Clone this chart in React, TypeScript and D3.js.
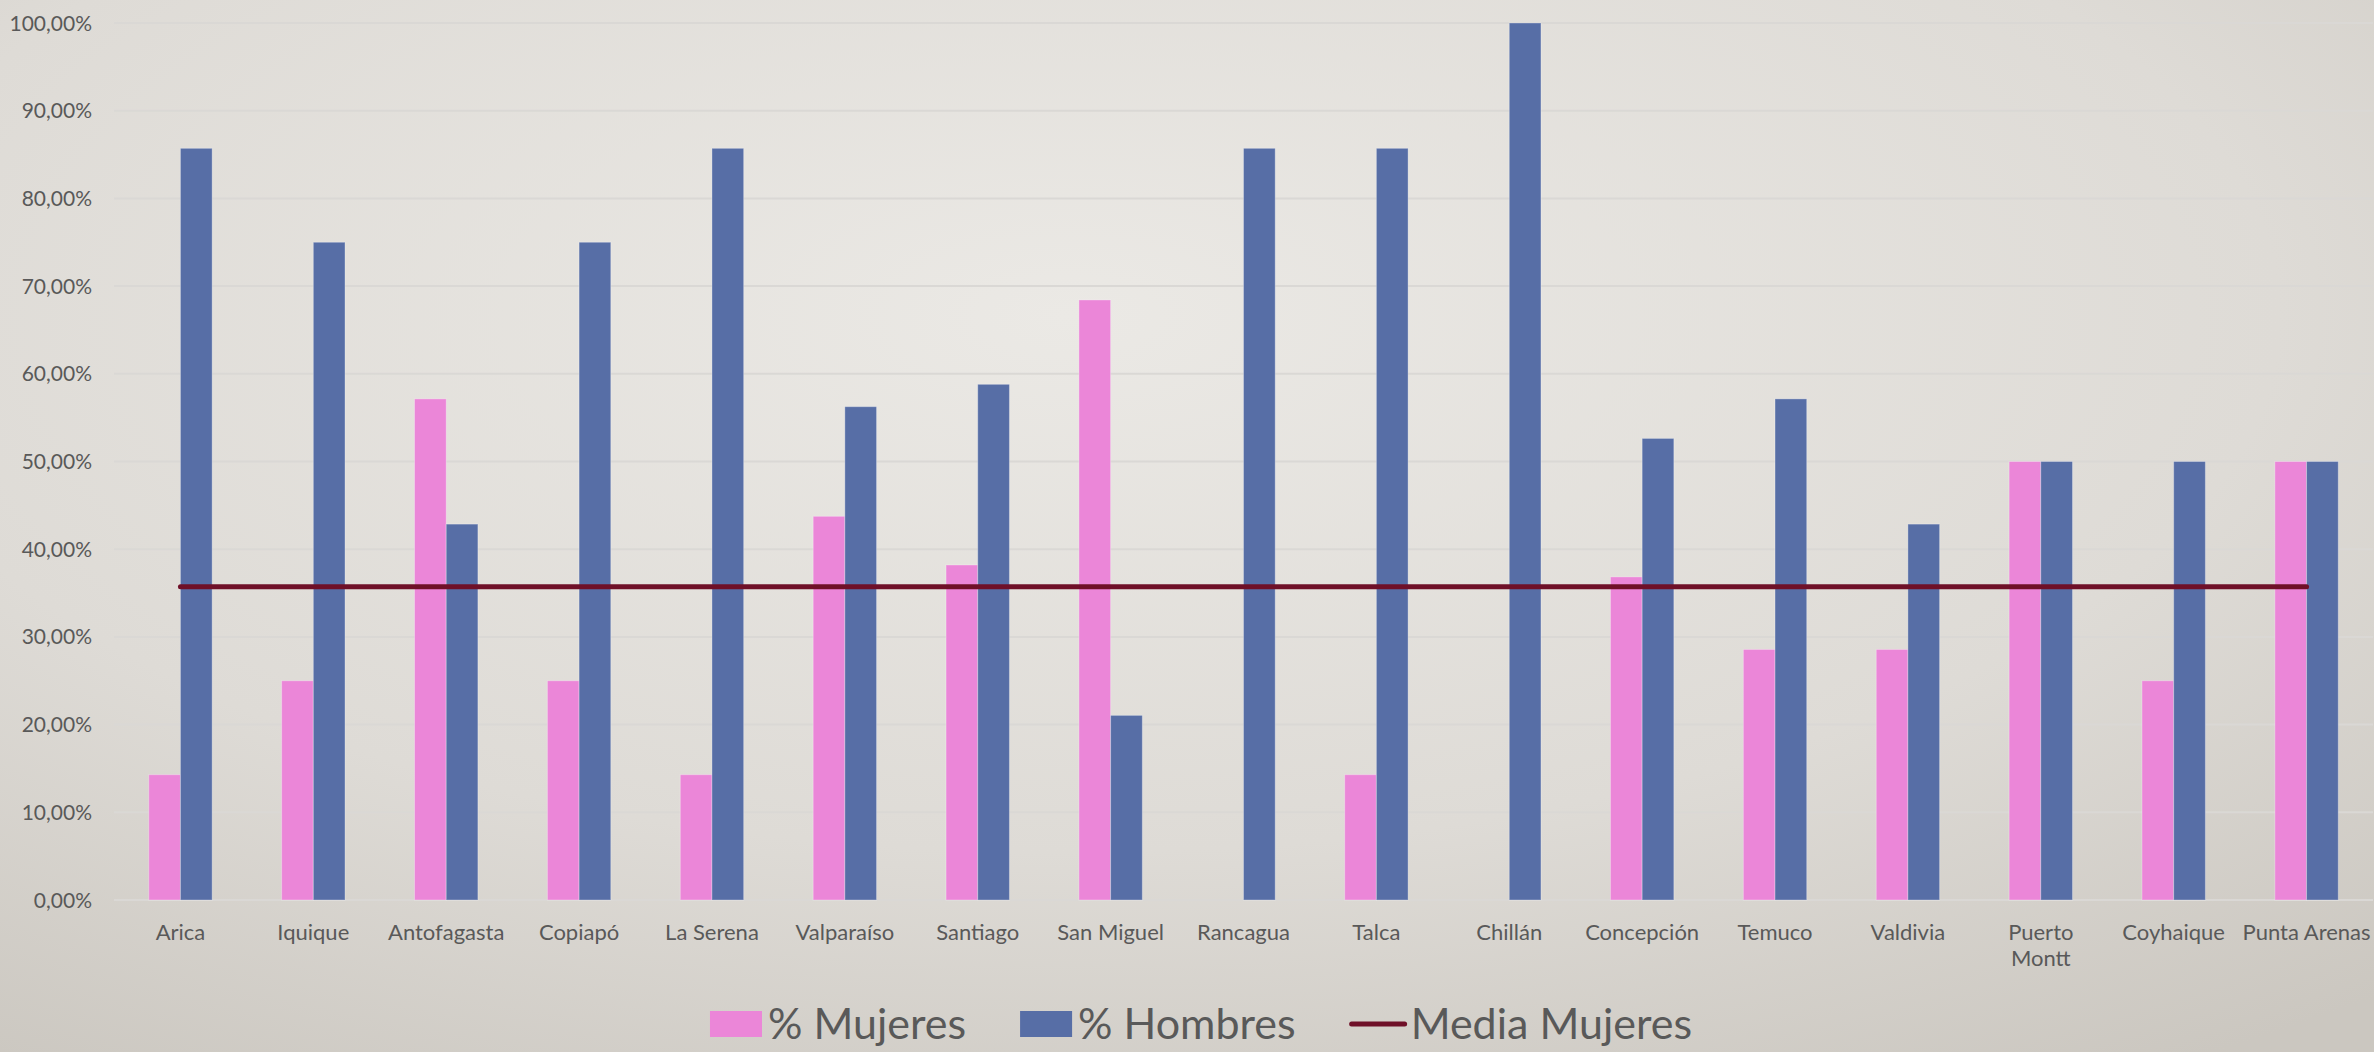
import { useEffect, useRef } from 'react'
import * as d3 from 'd3'

const cities = [
  'Arica', 'Iquique', 'Antofagasta', 'Copiapó', 'La Serena', 'Valparaíso',
  'Santiago', 'San Miguel', 'Rancagua', 'Talca', 'Chillán', 'Concepción',
  'Temuco', 'Valdivia', 'Puerto\nMontt', 'Coyhaique', 'Punta Arenas',
]
const mujeres = [
  0.1429, 0.25, 0.5714, 0.25, 0.1429, 0.4375, 0.382, 0.6842, 0, 0.1429,
  0, 0.3684, 0.2857, 0.2857, 0.5, 0.25, 0.5,
]
const hombres = [
  0.8571, 0.75, 0.4286, 0.75, 0.8571, 0.5625, 0.588, 0.2105, 0.8571, 0.8571,
  1, 0.5263, 0.5714, 0.4286, 0.5, 0.5, 0.5,
]
const mediaMujeres = 0.3571
const yTicks = [0, 0.1, 0.2, 0.3, 0.4, 0.5, 0.6, 0.7, 0.8, 0.9, 1]
const seriesNames = ['% Mujeres', '% Hombres', 'Media Mujeres']

const PINK = '#eb86d8'
const BLUE = '#576ea6'
const MAROON = '#6f1028'
const TEXT = '#595959'
const FONT = 'Lato, "Open Sans", sans-serif'

export default function App() {
  const svgRef = useRef<SVGSVGElement>(null)

  useEffect(() => {
    if (!svgRef.current) return
    const W = 2374
    const H = 1052
    const svg = d3.select(svgRef.current)
    svg.selectAll('*').remove()
    svg.attr('width', W).attr('height', H).attr('viewBox', `0 0 ${W} ${H}`)

    // background
    const defs = svg.append('defs')
    const grad = defs.append('radialGradient')
      .attr('id', 'bg').attr('cx', 0.45).attr('cy', 0.3).attr('r', 0.85)
    grad.append('stop').attr('offset', 0).attr('stop-color', '#ebe9e5')
    grad.append('stop').attr('offset', 0.6).attr('stop-color', '#dedbd6')
    grad.append('stop').attr('offset', 1).attr('stop-color', '#cbc7c0')
    svg.append('rect').attr('width', W).attr('height', H).attr('fill', 'url(#bg)')

    const plot = { left: 114, right: 2373, top: 23, bottom: 900 }

    const x = d3.scaleBand<number>()
      .domain(d3.range(cities.length))
      .range([plot.left, plot.right])
      .paddingInner(0.523)
      .paddingOuter(0.2615)
    const sub = d3.scaleBand<number>()
      .domain([0, 1])
      .range([0, x.bandwidth()])
    const y = d3.scaleLinear().domain([0, 1]).range([plot.bottom, plot.top])

    // grid
    svg.append('g')
      .selectAll('line')
      .data(yTicks)
      .join('line')
      .attr('x1', plot.left)
      .attr('x2', plot.right)
      .attr('y1', d => y(d))
      .attr('y2', d => y(d))
      .attr('stroke', '#dad8d5')
      .attr('stroke-width', 2)

    // y labels
    const fmt = (v: number) => (v * 100).toFixed(2).replace('.', ',') + '%'
    svg.append('g')
      .selectAll('text')
      .data(yTicks)
      .join('text')
      .attr('x', 92)
      .attr('y', d => y(d))
      .attr('dy', '0.36em')
      .attr('text-anchor', 'end')
      .attr('font-family', FONT)
      .attr('font-size', 21)
      .attr('fill', TEXT)
      .text(d => fmt(d))

    // bars
    const series = [mujeres, hombres]
    const colors = [PINK, BLUE]
    series.forEach((vals, si) => {
      svg.append('g')
        .selectAll('rect')
        .data(vals)
        .join('rect')
        .attr('x', (_, i) => (x(i) ?? 0) + (sub(si) ?? 0))
        .attr('y', d => y(d))
        .attr('width', sub.bandwidth())
        .attr('height', d => y(0) - y(d))
        .attr('fill', colors[si])
        .attr('stroke', d => (d > 0 ? 'rgba(255,255,255,0.3)' : 'none'))
        .attr('stroke-width', 1)
    })

    // mean line
    const center = (i: number) => (x(i) ?? 0) + x.bandwidth() / 2
    const line = d3.line<number>()
      .x((_, i) => center(i))
      .y(() => y(mediaMujeres))
    svg.append('path')
      .datum(cities.map(() => mediaMujeres))
      .attr('d', line)
      .attr('fill', 'none')
      .attr('stroke', MAROON)
      .attr('stroke-width', 5)
      .attr('stroke-linecap', 'round')

    // x labels
    const xl = svg.append('g')
    cities.forEach((c, i) => {
      const t = xl.append('text')
        .attr('x', center(i))
        .attr('y', 940)
        .attr('text-anchor', 'middle')
        .attr('font-family', FONT)
        .attr('font-size', 22)
        .attr('fill', TEXT)
      c.split('\n').forEach((part, k) => {
        t.append('tspan')
          .attr('x', center(i))
          .attr('dy', k === 0 ? 0 : 26)
          .text(part)
      })
    })

    // legend
    const lg = svg.append('g')
    const keyW = 52
    const itemGap = 54
    let cx = 0
    seriesNames.forEach((name, i) => {
      const g = lg.append('g').attr('transform', `translate(${cx},0)`)
      if (i < 2) {
        g.append('rect')
          .attr('x', 0).attr('y', 1011)
          .attr('width', keyW).attr('height', 26)
          .attr('fill', colors[i])
      } else {
        g.append('line')
          .attr('x1', 2).attr('x2', 55)
          .attr('y1', 1024).attr('y2', 1024)
          .attr('stroke', MAROON)
          .attr('stroke-width', 5)
          .attr('stroke-linecap', 'round')
      }
      const tx = i < 2 ? keyW + 6 : 61
      const t = g.append('text')
        .attr('x', tx)
        .attr('y', 1039)
        .attr('font-family', FONT)
        .attr('font-size', 43)
        .attr('fill', TEXT)
        .text(name)
      const tw = (t.node() as SVGTextElement).getComputedTextLength()
      cx += tx + tw + itemGap
    })
    const total = cx - itemGap
    lg.attr('transform', `translate(${1201 - total / 2},0)`)
  }, [])

  return (
    <div style={{ position: 'absolute', left: 0, top: 0 }}>
      <svg ref={svgRef} style={{ display: 'block' }} />
    </div>
  )
}
